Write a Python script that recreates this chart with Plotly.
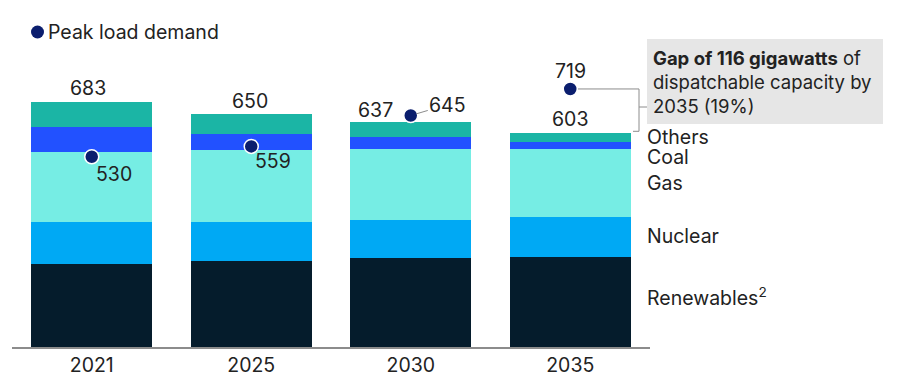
import plotly.graph_objects as go

# ---- data ----
years = ["2021", "2025", "2030", "2035"]
renewables = [232, 240, 248, 251]
nuclear = [115, 108, 107, 112]
gas = [197, 201, 198, 189]
coal = [68, 45, 33, 18]
others = [71, 56, 41, 25]
totals = [683, 650, 637, 603]
peak_load = [530, 559, 645, 719]
segment_names = ["Renewables<sup>2</sup>", "Nuclear", "Gas", "Coal", "Others"]

colors = {
    "Renewables": "#051c2c",
    "Nuclear": "#00a9f4",
    "Gas": "#76ede4",
    "Coal": "#2251ff",
    "Others": "#1bb5a5",
}
dot_color = "#0b1e6e"
text_color = "#222222"
FONT = "Inter"
FS = 19.5
FS_BOX = 18.5

# ---- layout geometry (pixels) ----
OFF = 8  # page body margin
W, H = 890, 379
ML, MR, MT, MB = 4, 248, 16, 40
PW = W - ML - MR
PH = H - MT - MB
YMAX = 900


def pxx(x):  # screen pixel x -> paper x
    return (x - OFF - ML) / PW


def pxy(y):  # screen pixel y -> paper y
    return (H - MB - (y - OFF)) / PH


fig = go.Figure()
series = [
    ("Renewables", renewables),
    ("Nuclear", nuclear),
    ("Gas", gas),
    ("Coal", coal),
    ("Others", others),
]
for name, vals in series:
    fig.add_trace(go.Bar(x=years, y=vals, name=name, marker_color=colors[name],
                         marker_line_width=0, showlegend=False, hoverinfo="skip"))

fig.add_trace(go.Scatter(x=years, y=peak_load, mode="markers", showlegend=False,
                         marker=dict(size=14, color=dot_color,
                                     line=dict(color="white", width=1.5)),
                         hoverinfo="skip"))

bar_tops = [sum(v) for v in zip(renewables, nuclear, gas, coal, others)]

annotations = []
# total labels (x given as category index)
total_shift = [(-4, 14), (-1, 13), (-35, 12), (0, 14)]
for i in range(len(years)):
    annotations.append(dict(x=i, y=bar_tops[i], text=str(totals[i]), showarrow=False,
                            xanchor="center", yanchor="middle",
                            xshift=total_shift[i][0], yshift=total_shift[i][1],
                            font=dict(family=FONT, size=FS, color=text_color)))
# peak load labels
peak_shift = [(22, -17), (22, -15), None, (0, 18)]
for i in range(len(years)):
    if peak_shift[i] is None:
        annotations.append(dict(x=i, y=peak_load[i], text=str(peak_load[i]),
                                showarrow=True, arrowhead=0, arrowwidth=1,
                                arrowcolor="#8c8c8c", ax=37, ay=-11, standoff=6,
                                font=dict(family=FONT, size=FS, color=text_color)))
    else:
        annotations.append(dict(x=i, y=peak_load[i], text=str(peak_load[i]), showarrow=False,
                                xanchor="center", yanchor="middle",
                                xshift=peak_shift[i][0], yshift=peak_shift[i][1],
                                font=dict(family=FONT, size=FS, color=text_color)))

# right-side segment labels (positioned at 2035 segment midpoints)
last = [renewables[-1], nuclear[-1], gas[-1], coal[-1], others[-1]]
label_yshift = [5, 1, 0, -11, 1]
cum = 0
for name, v, ys in zip(segment_names, last, label_yshift):
    mid = cum + v / 2
    cum += v
    annotations.append(dict(x=pxx(645), xref="paper", y=mid, yref="y", text=name,
                            showarrow=False, xanchor="left", yanchor="middle", yshift=ys,
                            font=dict(family=FONT, size=FS, color=text_color)))

# legend
annotations.append(dict(x=pxx(46), xref="paper", y=pxy(32), yref="paper",
                        text="Peak load demand", showarrow=False, xanchor="left",
                        yanchor="middle", font=dict(family=FONT, size=FS, color=text_color)))

# gap callout text
annotations.append(dict(x=pxx(651), xref="paper", y=pxy(45), yref="paper",
                        text="<b>Gap of 116 gigawatts</b> of<br>dispatchable capacity by<br>2035 (19%)",
                        showarrow=False, xanchor="left", yanchor="top", align="left",
                        font=dict(family=FONT, size=FS_BOX, color=text_color)))

shapes = []
# callout box
shapes.append(dict(type="rect", xref="paper", yref="paper",
                   x0=pxx(647), x1=pxx(883), y0=pxy(124), y1=pxy(39),
                   fillcolor="#e6e6e6", line=dict(width=0), layer="below"))
# bracket from 2035 peak to 2035 bar top
y_top = peak_load[-1]
y_bot = bar_tops[-1] + 6
shapes.append(dict(type="line", xref="paper", yref="y",
                   x0=pxx(578), x1=pxx(639), y0=y_top, y1=y_top,
                   line=dict(color="#8c8c8c", width=1)))
shapes.append(dict(type="line", xref="paper", yref="y",
                   x0=pxx(639), x1=pxx(639), y0=y_top, y1=y_bot,
                   line=dict(color="#8c8c8c", width=1)))
shapes.append(dict(type="line", xref="paper", yref="y",
                   x0=pxx(633), x1=pxx(639), y0=y_bot, y1=y_bot,
                   line=dict(color="#8c8c8c", width=1)))
shapes.append(dict(type="line", xref="paper", yref="paper",
                   x0=pxx(639), x1=pxx(647), y0=pxy(107), y1=pxy(107),
                   line=dict(color="#8c8c8c", width=1)))
# legend dot
shapes.append(dict(type="circle", xref="paper", yref="paper",
                   xsizemode="pixel", ysizemode="pixel",
                   xanchor=pxx(37.5), yanchor=pxy(32),
                   x0=-6.5, x1=6.5, y0=-6.5, y1=6.5,
                   fillcolor=dot_color, line=dict(width=0)))

fig.update_layout(
    width=W, height=H,
    margin=dict(l=ML, r=MR, t=MT, b=MB),
    barmode="stack", bargap=0.24,
    plot_bgcolor="white", paper_bgcolor="white",
    font=dict(family=FONT, size=FS, color=text_color),
    annotations=annotations, shapes=shapes,
    xaxis=dict(type="category", range=[-0.5, 3.5], showline=True, linecolor="#8c8c8c",
               linewidth=1.5, showgrid=False, ticks="", zeroline=False,
               tickfont=dict(family=FONT, size=FS, color=text_color)),
    yaxis=dict(range=[0, YMAX], visible=False, showgrid=False, zeroline=False),
)

fig.write_html("out.html")
